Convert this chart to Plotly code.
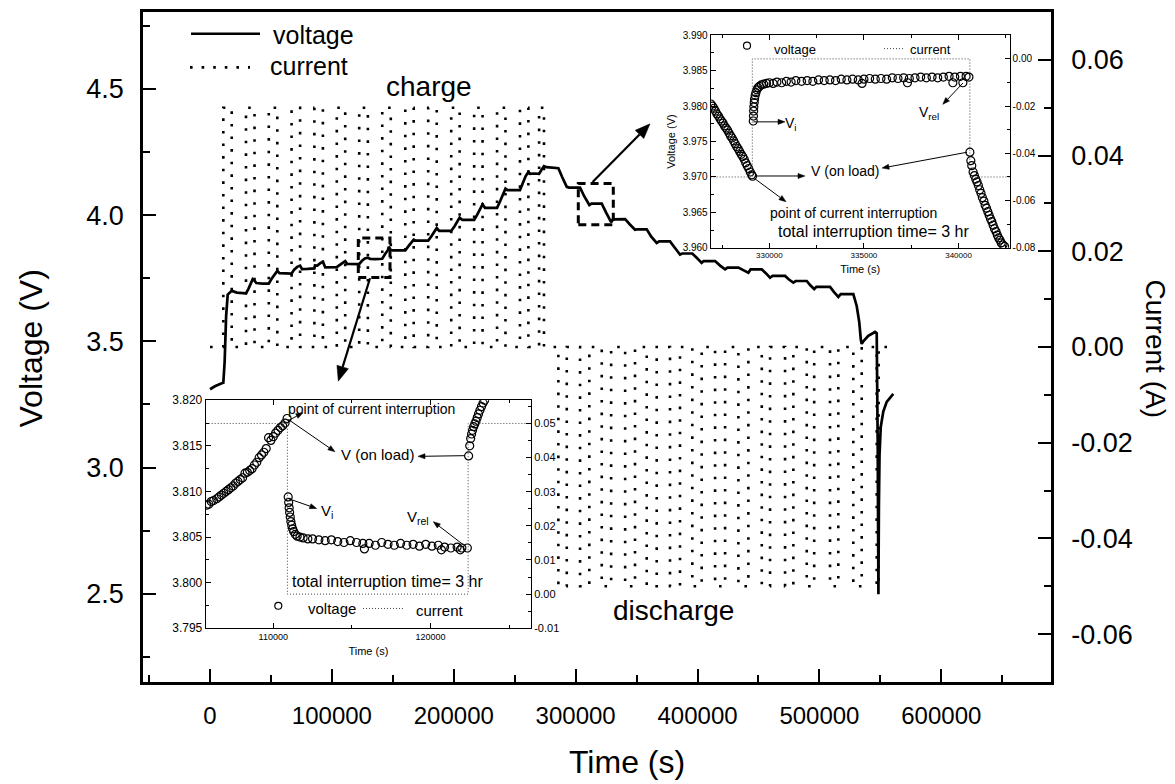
import math
import plotly.graph_objects as go

# ---------------- data ----------------
main_time = [
    0, 4000, 9600, 10900, 12000, 13200, 14500, 17800, 22000, 29500,
    31500, 34000, 35000, 36500, 38000, 43000, 48200,
    50500, 53000, 55200, 57000, 62000, 66900,
    69000, 71500, 73900, 75500, 80000, 84500, 85600,
    86100, 88000, 90500, 92600, 94500, 99000, 104000,
    106500, 109000, 110900, 112500, 117000, 122400,
    124500, 127000, 129500, 131300, 136000, 141300,
    143500, 146000, 146600, 148300, 150000, 155000, 160200,
    162500, 165000, 167100, 169000, 174000, 179000,
    181500, 184000, 186000, 188000, 192500, 197900,
    200500, 203000, 204800, 207000, 212000, 216700,
    219000, 221500, 223600, 225600, 230000, 235500,
    238000, 240500, 242400, 244000, 249000, 254300,
    256500, 259000, 261200, 262500, 266000, 270000,
    272000, 274000, 276000, 281000, 285800,
    289000, 292700, 294500, 299000, 303600,
    307000, 311200, 313000, 318000, 321400,
    325000, 329100, 330500, 336000, 340600,
    344500, 348700, 350500, 354000, 358300,
    362000, 366500, 368500, 373000, 377400,
    381500, 385600, 387500, 392000, 395700,
    399500, 403400, 405000, 410000, 414400,
    418500, 422600, 424500, 429000, 433500,
    437500, 441700, 443500, 448000, 452700,
    456000, 459500, 461500, 467000, 471800,
    475000, 478600, 480500, 485000, 489600,
    492500, 495700, 497500, 503000, 508700,
    512000, 515500, 517500, 523000, 527800,
    530600, 532700, 534000, 534700,
    536000, 540100, 545600, 547000,
    547800, 548400,
    548800, 549300, 550300, 552400, 555200, 560600,
]
main_voltage = [
    3.310, 3.322, 3.334, 3.336, 3.420, 3.600, 3.685, 3.700, 3.693, 3.690,
    3.708, 3.735, 3.746, 3.740, 3.731, 3.729, 3.729,
    3.748, 3.766, 3.779, 3.770, 3.768, 3.768,
    3.784, 3.795, 3.800, 3.786, 3.787, 3.789, 3.789,
    3.801, 3.800, 3.810, 3.815, 3.793, 3.793, 3.794,
    3.803, 3.812, 3.818, 3.807, 3.806, 3.806,
    3.818, 3.828, 3.831, 3.827, 3.826, 3.827,
    3.845, 3.862, 3.875, 3.862, 3.860, 3.859, 3.860,
    3.875, 3.893, 3.903, 3.899, 3.899, 3.899,
    3.915, 3.935, 3.949, 3.938, 3.938, 3.938,
    3.955, 3.975, 3.990, 3.981, 3.981, 3.981,
    4.000, 4.025, 4.043, 4.029, 4.029, 4.029,
    4.055, 4.085, 4.105, 4.099, 4.099, 4.099,
    4.125, 4.155, 4.171, 4.164, 4.165, 4.164,
    4.180, 4.194, 4.190, 4.189, 4.186,
    4.150, 4.112, 4.109, 4.108, 4.109,
    4.075, 4.040, 4.046, 4.045, 4.046,
    4.010, 3.972, 3.983, 3.984, 3.984,
    3.963, 3.942, 3.944, 3.945, 3.944,
    3.915, 3.890, 3.896, 3.896, 3.896,
    3.870, 3.844, 3.848, 3.849, 3.848,
    3.830, 3.811, 3.818, 3.817, 3.818,
    3.800, 3.785, 3.792, 3.793, 3.792,
    3.782, 3.772, 3.785, 3.786, 3.785,
    3.770, 3.752, 3.759, 3.760, 3.759,
    3.745, 3.733, 3.739, 3.740, 3.739,
    3.722, 3.707, 3.716, 3.715, 3.716,
    3.695, 3.676, 3.687, 3.688, 3.687,
    3.640, 3.575, 3.505, 3.490,
    3.500, 3.522, 3.537, 3.532,
    3.100, 2.498,
    2.850, 3.050, 3.160, 3.222, 3.260, 3.292,
]

charge_start = [10900, 29500, 48200, 66900, 85600, 104000, 122400, 141300,
                160200, 179000, 197900, 216700, 235500, 254300, 270000]
charge_end = [17800, 36500, 55200, 73900, 92600, 110900, 129500, 148300,
              167100, 186000, 204800, 223600, 242400, 261200, 274000]
discharge_start = [285800, 303600, 321400, 340600, 358300, 377400, 395700, 414400,
                   433500, 452700, 471800, 489600, 508700, 527800, 547000]
discharge_end = [292700, 311200, 329100, 348700, 366500, 385600, 403400, 422600,
                 441700, 459500, 478600, 495700, 515500, 534700, 548600]
charge_current = 0.05
discharge_current = -0.05
current_end_time = 555500

inset1_time = [
    105750, 105900, 106050, 106200, 106400, 106550, 106700, 106850, 107000, 107150,
    107300, 107450, 107600, 107750, 107900, 108050, 108200, 108350, 108500, 108650,
    108800, 108950, 109100, 109250, 109400, 109550, 109700, 109850, 110000, 110150,
    110300, 110450, 110600, 110750, 110880,
    110950, 110980, 111010, 111040, 111080, 111120, 111170, 111230, 111300, 111400,
    111520, 111700, 111900, 112200, 112500, 112900, 113300, 113700, 114100, 114500,
    114900, 115300, 115700, 115800, 116100, 116500, 116900, 117300, 117700, 118100,
    118500, 118900, 119300, 119700, 120100, 120500, 120700, 120900, 121300, 121700,
    121900, 122000, 122350,
    122430, 122500, 122560, 122620, 122680, 122750, 122820, 122900, 122980, 123060,
    123150, 123250, 123350, 123450,
]
inset1_voltage = [
    3.8085, 3.8086, 3.8089, 3.8090, 3.8092, 3.8094, 3.8096, 3.8098, 3.8100, 3.8102,
    3.8104, 3.8106, 3.8109, 3.8111, 3.8113, 3.8115, 3.8120, 3.8121, 3.8123, 3.8125,
    3.8129, 3.8132, 3.8137, 3.8140, 3.8143, 3.8147, 3.8159, 3.8156, 3.8160, 3.8164,
    3.8167, 3.8170, 3.8172, 3.8175, 3.8180,
    3.8094, 3.8088, 3.8082, 3.8077, 3.8072, 3.8067, 3.8063, 3.8059, 3.8056, 3.8053,
    3.8051, 3.8050, 3.8049, 3.8048, 3.8048, 3.8047, 3.8046, 3.8047, 3.8045, 3.8044,
    3.8046, 3.8044, 3.8043, 3.8037, 3.8043, 3.8041, 3.8044, 3.8042, 3.8041, 3.8043,
    3.8041, 3.8042, 3.8040, 3.8042, 3.8040, 3.8041, 3.8036, 3.8039, 3.8038, 3.8039,
    3.8036, 3.8038, 3.8038,
    3.8139, 3.8150, 3.8158, 3.8163, 3.8167, 3.8171, 3.8174, 3.8177, 3.8181, 3.8185,
    3.8189, 3.8193, 3.8197, 3.8200,
]
inset1_current_time = [105700, 110900, 110900, 122400, 122400, 126400]
inset1_current = [0.05, 0.05, 0.00, 0.00, 0.05, 0.05]

inset2_time = [
    326910, 326990, 327070, 327150, 327230, 327310, 327390, 327470, 327550, 327630,
    327710, 327790, 327870, 327950, 328030, 328110, 328190, 328270, 328350, 328430,
    328510, 328590, 328670, 328750, 328830, 328910, 328990, 329070, 329110,
    329150, 329160, 329170, 329180, 329200, 329220, 329250, 329290, 329340, 329400,
    329480, 329580, 329700, 329850, 330000, 330200, 330400, 330650, 330900, 331150,
    331400, 331700, 332000, 332300, 332600, 332900, 333200, 333500, 333800, 334100,
    334400, 334700, 334900, 335000, 335300, 335600, 335900, 336200, 336500, 336800,
    337100, 337300, 337400, 337700, 338000, 338300, 338600, 338900, 339200, 339500,
    339700, 339800, 340100, 340230, 340400, 340550,
    340600, 340650, 340700, 340770, 340840, 340910, 340980, 341050, 341120, 341190,
    341260, 341340, 341410, 341480, 341550, 341620, 341690, 341760, 341830, 341900,
    341980, 342050, 342120, 342190, 342260, 342350, 342440,
]
inset2_voltage = [
    3.9803, 3.9800, 3.9797, 3.9793, 3.9789, 3.9786, 3.9782, 3.9779, 3.9776, 3.9772,
    3.9769, 3.9766, 3.9762, 3.9758, 3.9755, 3.9751, 3.9747, 3.9743, 3.9740, 3.9736,
    3.9732, 3.9729, 3.9725, 3.9720, 3.9716, 3.9712, 3.9707, 3.9703, 3.9701,
    3.9779, 3.9786, 3.9793, 3.9799, 3.9805, 3.9810, 3.9815, 3.9819, 3.9823, 3.9826,
    3.9828, 3.9830, 3.9831, 3.9832, 3.9833, 3.9832, 3.9834, 3.9833, 3.9835, 3.9834,
    3.9836, 3.9835, 3.9836, 3.9835, 3.9837, 3.9836, 3.9837, 3.9836, 3.9838, 3.9837,
    3.9838, 3.9837, 3.9832, 3.9838, 3.9839, 3.9838, 3.9839, 3.9838, 3.9840, 3.9839,
    3.9840, 3.9833, 3.9839, 3.9840, 3.9841, 3.9840, 3.9841, 3.9840, 3.9841, 3.9842,
    3.9833, 3.9841, 3.9842, 3.9833, 3.9842, 3.9841,
    3.9735, 3.9723, 3.9716, 3.9707, 3.9702, 3.9697, 3.9693, 3.9688, 3.9682, 3.9677,
    3.9671, 3.9666, 3.9660, 3.9656, 3.9651, 3.9646, 3.9641, 3.9637, 3.9632, 3.9627,
    3.9623, 3.9618, 3.9614, 3.9611, 3.9607, 3.9604, 3.9602,
]
inset2_current_time = [326900, 329100, 329100, 340600, 340600, 342700]
inset2_current = [-0.05, -0.05, 0.00, 0.00, -0.05, -0.05]

# tick labels
main_x_ticks = [0, 100000, 200000, 300000, 400000, 500000, 600000]
main_x_labels = ["0", "100000", "200000", "300000", "400000", "500000", "600000"]
main_v_ticks = [2.5, 3.0, 3.5, 4.0, 4.5]
main_v_labels = ["2.5", "3.0", "3.5", "4.0", "4.5"]
main_i_ticks = [-0.06, -0.04, -0.02, 0.00, 0.02, 0.04, 0.06]
main_i_labels = ["-0.06", "-0.04", "-0.02", "0.00", "0.02", "0.04", "0.06"]
in1_x_ticks = [110000, 120000]
in1_x_labels = ["110000", "120000"]
in1_v_ticks = [3.795, 3.800, 3.805, 3.810, 3.815, 3.820]
in1_v_labels = ["3.795", "3.800", "3.805", "3.810", "3.815", "3.820"]
in1_i_ticks = [-0.01, 0.00, 0.01, 0.02, 0.03, 0.04, 0.05]
in1_i_labels = ["-0.01", "0.00", "0.01", "0.02", "0.03", "0.04", "0.05"]
in2_x_ticks = [330000, 335000, 340000]
in2_x_labels = ["330000", "335000", "340000"]
in2_v_ticks = [3.960, 3.965, 3.970, 3.975, 3.980, 3.985, 3.990]
in2_v_labels = ["3.960", "3.965", "3.970", "3.975", "3.980", "3.985", "3.990"]
in2_i_ticks = [-0.08, -0.06, -0.04, -0.02, 0.00]
in2_i_labels = ["-0.08", "-0.06", "-0.04", "-0.02", "0.00"]

# ---------------- build current step path from pulse lists ----------------
cur_t = [0]
cur_i = [0.0]
for s, e in zip(charge_start, charge_end):
    cur_t += [s, s, e, e]
    cur_i += [0.0, charge_current, charge_current, 0.0]
for s, e in zip(discharge_start, discharge_end):
    cur_t += [s, s, e, e]
    cur_i += [0.0, discharge_current, discharge_current, 0.0]
cur_t.append(current_end_time)
cur_i.append(0.0)

# ---------------- layout geometry (pixels) ----------------
W, H = 1175, 784
PL, PR, PT, PB = 143, 1051, 5, 682


def px(x):
    return (x - PL) / (PR - PL)


def py(y):
    return (PB - y) / (PB - PT)


FONT = "Arial, Liberation Sans, Helvetica, sans-serif"
BLACK = "black"

fig = go.Figure()

fig.add_trace(go.Scatter(x=main_time, y=main_voltage, mode="lines",
                         line=dict(color=BLACK, width=2.7), xaxis="x", yaxis="y",
                         showlegend=False, name="voltage"))
fig.add_trace(go.Scatter(x=cur_t, y=cur_i, mode="lines",
                         line=dict(color=BLACK, width=2.6, dash="2.6px,10px"),
                         xaxis="x", yaxis="y2", showlegend=False, name="current"))

fig.add_trace(go.Scatter(x=inset1_current_time, y=inset1_current, mode="lines",
                         line=dict(color="#444", width=1, dash="1px,2px"),
                         xaxis="x3", yaxis="y4", showlegend=False))
fig.add_trace(go.Scatter(x=inset1_time, y=inset1_voltage, mode="markers",
                         marker=dict(symbol="circle-open", size=8, color=BLACK,
                                     line=dict(width=1.2, color=BLACK)),
                         xaxis="x3", yaxis="y3", showlegend=False))

fig.add_trace(go.Scatter(x=inset2_current_time, y=inset2_current, mode="lines",
                         line=dict(color="#444", width=1, dash="1px,2px"),
                         xaxis="x4", yaxis="y6", showlegend=False))
fig.add_trace(go.Scatter(x=inset2_time, y=inset2_voltage, mode="markers",
                         marker=dict(symbol="circle-open", size=8, color=BLACK,
                                     line=dict(width=1.2, color=BLACK)),
                         xaxis="x4", yaxis="y5", showlegend=False))

main_axis = dict(showline=True, linecolor=BLACK, linewidth=2.7, ticks="inside",
                 ticklen=13, tickwidth=2, tickcolor=BLACK, showgrid=False,
                 zeroline=False)

inset_axis = dict(showline=True, linecolor=BLACK, linewidth=1, ticks="inside",
                  ticklen=5, tickwidth=1, tickcolor=BLACK, showgrid=False,
                  zeroline=False)

fig.update_layout(
    width=W, height=H,
    margin=dict(l=PL, r=W - PR, t=PT, b=H - PB, pad=0),
    paper_bgcolor="white", plot_bgcolor="white",
    showlegend=False,
    xaxis=dict(**main_axis, domain=[0, 1], anchor="y", range=[-55000, 690000],
               tickvals=main_x_ticks, ticktext=main_x_labels, mirror=True,
               ticklabelstandoff=10,
               tickfont=dict(family=FONT, size=24, color=BLACK),
               minor=dict(dtick=50000, tick0=0, ticks="inside", ticklen=7,
                          tickwidth=2, tickcolor=BLACK)),
    yaxis=dict(**main_axis, domain=[0, 1], anchor="x", range=[2.15, 4.805],
               tickvals=main_v_ticks, ticktext=main_v_labels,
               ticklabelstandoff=11,
               tickfont=dict(family=FONT, size=27, color=BLACK),
               minor=dict(dtick=0.25, tick0=2.5, ticks="inside", ticklen=7,
                          tickwidth=2, tickcolor=BLACK)),
    yaxis2=dict(**main_axis, overlaying="y", side="right", anchor="x",
                range=[-0.07, 0.07], tickvals=main_i_ticks, ticktext=main_i_labels,
                ticklabelstandoff=12,
                tickfont=dict(family=FONT, size=27, color=BLACK),
                minor=dict(dtick=0.01, tick0=0, ticks="inside", ticklen=7,
                           tickwidth=2, tickcolor=BLACK)),
    xaxis3=dict(**inset_axis, domain=[px(205.7), px(531)], anchor="y3",
                range=[105700, 126400], tickvals=in1_x_ticks, ticktext=in1_x_labels,
                mirror="ticks", tickfont=dict(family=FONT, size=9, color=BLACK),
                title=dict(text="Time (s)", font=dict(family=FONT, size=11, color=BLACK),
                           standoff=6),
                minor=dict(dtick=5000, tick0=0, ticks="inside", ticklen=3,
                           tickcolor=BLACK)),
    yaxis3=dict(**inset_axis, domain=[py(627.7), py(397.3)], anchor="x3",
                range=[3.795, 3.820], tickvals=in1_v_ticks, ticktext=in1_v_labels,
                tickfont=dict(family=FONT, size=12, color=BLACK),
                minor=dict(dtick=0.0025, tick0=3.795, ticks="inside", ticklen=3,
                           tickcolor=BLACK)),
    yaxis4=dict(**inset_axis, overlaying="y3", side="right", anchor="x3",
                range=[-0.01, 0.0568], tickvals=in1_i_ticks, ticktext=in1_i_labels,
                tickfont=dict(family=FONT, size=11, color=BLACK),
                minor=dict(dtick=0.005, tick0=0, ticks="inside", ticklen=3,
                           tickcolor=BLACK)),
    xaxis4=dict(**inset_axis, domain=[px(710.7), px(1009.6)], anchor="y5",
                range=[326900, 342700], tickvals=in2_x_ticks, ticktext=in2_x_labels,
                mirror="ticks", tickfont=dict(family=FONT, size=8, color=BLACK),
                title=dict(text="Time (s)", font=dict(family=FONT, size=11, color=BLACK),
                           standoff=5),
                minor=dict(dtick=2500, tick0=0, ticks="inside", ticklen=3,
                           tickcolor=BLACK)),
    yaxis5=dict(**inset_axis, domain=[py(243.3), py(28.5)], anchor="x4",
                range=[3.960, 3.990], tickvals=in2_v_ticks, ticktext=in2_v_labels,
                tickfont=dict(family=FONT, size=10, color=BLACK),
                title=dict(text="Voltage (V)", font=dict(family=FONT, size=11, color=BLACK),
                           standoff=4),
                minor=dict(dtick=0.0025, tick0=3.96, ticks="inside", ticklen=3,
                           tickcolor=BLACK)),
    yaxis6=dict(**inset_axis, overlaying="y5", side="right", anchor="x4",
                range=[-0.08, 0.01], tickvals=in2_i_ticks, ticktext=in2_i_labels,
                tickfont=dict(family=FONT, size=10, color=BLACK),
                minor=dict(dtick=0.01, tick0=0, ticks="inside", ticklen=3,
                           tickcolor=BLACK)),
)

annotations = []
shapes = []


def text(x, y, s, size, angle=0, anchor="center"):
    annotations.append(dict(x=px(x), y=py(y), xref="paper", yref="paper", text=s,
                            showarrow=False, textangle=angle, xanchor=anchor,
                            yanchor="middle",
                            font=dict(family=FONT, size=size, color=BLACK)))


def arrow(tail, head, width=1.0, head_len=7.0, head_half=2.6):
    """Arrow drawn as a line shape plus a filled triangular head (pixel coords)."""
    dx, dy = head[0] - tail[0], head[1] - tail[1]
    n = math.hypot(dx, dy)
    ux, uy = dx / n, dy / n
    bx, by = head[0] - ux * head_len, head[1] - uy * head_len
    nx, ny = -uy, ux
    shapes.append(dict(type="line", xref="paper", yref="paper",
                       x0=px(tail[0]), y0=py(tail[1]), x1=px(bx), y1=py(by),
                       line=dict(color=BLACK, width=width)))
    p1 = (bx + nx * head_half, by + ny * head_half)
    p2 = (bx - nx * head_half, by - ny * head_half)
    path = "M {:.5f},{:.5f} L {:.5f},{:.5f} L {:.5f},{:.5f} Z".format(
        px(head[0]), py(head[1]), px(p1[0]), py(p1[1]), px(p2[0]), py(p2[1]))
    shapes.append(dict(type="path", xref="paper", yref="paper", path=path,
                       fillcolor=BLACK, line=dict(color=BLACK, width=0.5)))


# axis titles of the main chart
text(627, 763, "Time (s)", 32)
text(31, 345, "Voltage (V)", 32, angle=-90)
text(1156, 345, "Current (A)", 28, angle=90)

# region labels
text(429, 80, "charge", 28)
text(673, 610, "discharge", 28)

# main legend
shapes.append(dict(type="line", xref="paper", yref="paper", x0=px(191), x1=px(260),
                   y0=py(27), y1=py(27), line=dict(color=BLACK, width=2.7)))
shapes.append(dict(type="line", xref="paper", yref="paper", x0=px(190), x1=px(250),
                   y0=py(61), y1=py(61), line=dict(color=BLACK, width=2.6, dash="2.6px,9px")))
text(271, 28, "voltage", 25, anchor="left")
text(268, 60, "current", 25, anchor="left")

# dashed boxes and big arrows
shapes.append(dict(type="rect", xref="paper", yref="paper", x0=px(358.3), x1=px(390),
                   y0=py(273.3), y1=py(233.3),
                   line=dict(color=BLACK, width=3, dash="8px,5px")))
shapes.append(dict(type="rect", xref="paper", yref="paper", x0=px(578.3), x1=px(613.3),
                   y0=py(220), y1=py(178.3),
                   line=dict(color=BLACK, width=3, dash="8px,5px")))
arrow((370, 274), (338.3, 378), width=2.2, head_len=15, head_half=6)
arrow((592.6, 176.7), (650, 118), width=2.2, head_len=15, head_half=6)

# inset 1 annotations
text(371.7, 405.7, "point of current interruption", 14)
text(377.3, 452.3, "V (on load)", 15)
text(326.7, 510, "V<sub>i</sub>", 15)
text(418.3, 516, "V<sub>rel</sub>", 15)
text(387.3, 580, "total interruption time= 3 hr", 16)
arrow((288, 418), (303, 410))
arrow((288.3, 416.7), (335, 449.3))
arrow((465, 453.3), (418, 454))
arrow((288.3, 496.7), (316.7, 506.7))
arrow((463.3, 543.3), (433.3, 520))
# inset 1 legend
shapes.append(dict(type="circle", xref="paper", yref="paper", x0=px(274.8), x1=px(281.8),
                   y0=py(608.5), y1=py(601.5), line=dict(color=BLACK, width=1.2)))
text(332.3, 608, "voltage", 15)
shapes.append(dict(type="line", xref="paper", yref="paper", x0=px(363), x1=px(405),
                   y0=py(607.7), y1=py(607.7), line=dict(color="#444", width=1, dash="1px,2px")))
text(440, 610, "current", 15)

# inset 2 annotations
text(845, 166, "V (on load)", 14)
text(853.7, 208.3, "point of current interruption", 14)
text(873, 226.7, "total interruption time= 3 hr", 16)
text(791, 118, "V<sub>i</sub>", 14)
text(928.7, 106.7, "V<sub>rel</sub>", 14)
arrow((753.4, 116), (785, 116))
arrow((963, 76.7), (942.8, 98.3))
arrow((754.6, 170.7), (805, 170.7))
arrow((967, 146.7), (882, 162.7))
arrow((754.6, 173.3), (786, 196.7))
# inset 2 legend
shapes.append(dict(type="circle", xref="paper", yref="paper", x0=px(743.5), x1=px(750.5),
                   y0=py(42.5), y1=py(35.5), line=dict(color=BLACK, width=1.2)))
text(795, 43, "voltage", 13)
shapes.append(dict(type="line", xref="paper", yref="paper", x0=px(884), x1=px(905),
                   y0=py(42), y1=py(42), line=dict(color="#444", width=1, dash="1px,2px")))
text(930, 43, "current", 13)

fig.update_layout(annotations=annotations, shapes=shapes)

fig.write_html("out.html")
